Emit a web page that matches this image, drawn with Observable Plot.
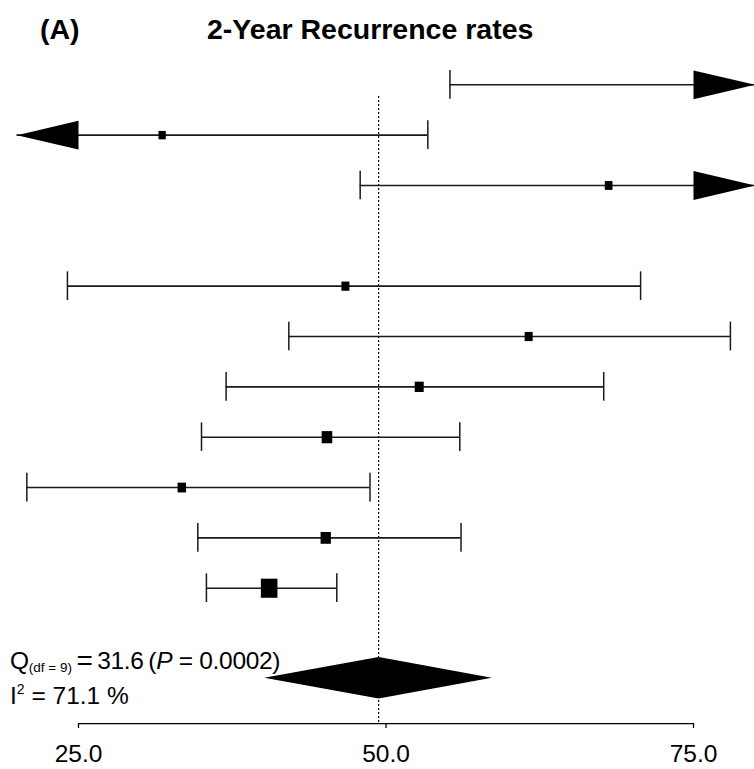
<!DOCTYPE html>
<html>
<head>
<meta charset="utf-8">
<script src="https://cdn.jsdelivr.net/npm/d3@7"></script>
<script src="https://cdn.jsdelivr.net/npm/@observablehq/plot@0.6"></script>
<style>
  body { margin: 0; background: #fff; }
  #wrap { position: relative; width: 754px; height: 769px; font-family: "Liberation Sans", Arial, sans-serif; color: #000; }
  #title { position: relative; height: 56px; }
  #title span { position: absolute; top: 15px; font-weight: bold; font-size: 28.5px; line-height: 28px; white-space: nowrap; }
  .ann { position: absolute; left: 10px; font-size: 24.5px; line-height: 24px; white-space: nowrap; }
  #qline { letter-spacing: -0.3px; }
  .sub { font-size: 13.5px; position: relative; top: 3px; letter-spacing: 0; }
  .sup { font-size: 14px; position: relative; top: -10px; }
  .bigeq { font-size: 28px; position: relative; top: 1px; }
  #chart svg { display: block; }
</style>
</head>
<body>
<div id="wrap">
  <div id="title"><span id="panel" style="left:40px"></span><span id="maintitle" style="left:207px"></span></div>
  <div id="chart"></div>
  <div class="ann" id="qline" style="top:648px"></div>
  <div class="ann" id="iline" style="top:684px"></div>
</div>
<script>
// ---- data ----
const panelLabel = "(A)";
const chartTitle = "2-Year Recurrence rates";
const studyRow  = [0, 1, 2, 4, 5, 6, 7, 8, 9, 10];          // row slot (slot 3 is empty)
const estimate  = [78.0, 31.8, 68.1, 46.7, 61.6, 52.7, 45.2, 33.4, 45.1, 40.5];
const lowerCI   = [55.2, 10.2, 47.9, 24.1, 42.1, 37.0, 35.0, 20.8, 34.7, 35.4];
const upperCI   = [100.0, 53.4, 88.3, 70.7, 78.0, 67.7, 56.0, 48.7, 56.1, 46.0];
const weight    = [7.0, 7.3, 7.7, 8.0, 8.0, 9.0, 10.6, 8.5, 10.3, 16.6];
const pooledEst = 49.4, pooledLower = 40.1, pooledUpper = 58.6;
const pooledRow = 11.78;
const qStat = "31.6", qDf = 9, pValue = "0.0002", i2 = "71.1";
const tickValues = [25, 50, 75];
const xLimits = [20, 80];          // axis limits beyond which arrows are drawn

// ---- layout constants ----
const arrowLen = 5;                // head length in x units
const arrowHalf = 0.286;           // head half height in rows
const capHalf = 0.285;
const diamondHalf = 0.413;
const refTop = 0.232;
const axisRow = 12.688;

const studies = studyRow.map((s, i) => ({slot: s, est: estimate[i], lo: lowerCI[i], hi: upperCI[i], w: weight[i]}));

const arrowPts = [];
studies.forEach((d, i) => {
  if (d.hi > xLimits[1]) {
    arrowPts.push({id: "r" + i, x: xLimits[1], y: d.slot},
                  {id: "r" + i, x: xLimits[1] - arrowLen, y: d.slot - arrowHalf},
                  {id: "r" + i, x: xLimits[1] - arrowLen, y: d.slot + arrowHalf});
  }
  if (d.lo < xLimits[0]) {
    arrowPts.push({id: "l" + i, x: xLimits[0], y: d.slot},
                  {id: "l" + i, x: xLimits[0] + arrowLen, y: d.slot - arrowHalf},
                  {id: "l" + i, x: xLimits[0] + arrowLen, y: d.slot + arrowHalf});
  }
});
const diamond = [
  {x: pooledLower, y: pooledRow},
  {x: pooledEst, y: pooledRow - diamondHalf},
  {x: pooledUpper, y: pooledRow},
  {x: pooledEst, y: pooledRow + diamondHalf}
];

const tallSquare = {
  draw(ctx, size) {
    const r = Math.sqrt(size / Math.PI), h = r * 1.15;
    ctx.moveTo(-r, -h); ctx.lineTo(r, -h); ctx.lineTo(r, h); ctx.lineTo(-r, h); ctx.closePath();
  }
};

const lineColor = "#1a1a1a";

const plot = Plot.plot({
  width: 754,
  height: 713,
  marginTop: 0, marginLeft: 0, marginRight: 0, marginBottom: 46,
  x: {domain: xLimits, range: [16.5, 754.5]},
  y: {domain: [0, 12], range: [28.3, 632.4], axis: null},
  r: {type: "linear", domain: [0, 1], range: [0, 0.5]},
  style: {fontFamily: "'Liberation Sans', Arial, sans-serif", fontSize: "24.5px", color: "black", background: "white", overflow: "visible"},
  marks: [
    Plot.ruleX([pooledEst], {y1: refTop, y2: axisRow, stroke: "black", strokeWidth: 1.2, strokeDasharray: "2,2"}),
    Plot.ruleY(studies, {y: "slot", x1: d => Math.max(d.lo, xLimits[0]), x2: d => Math.min(d.hi, xLimits[1]), stroke: lineColor, strokeWidth: 1.6}),
    Plot.ruleX(studies.filter(d => d.lo >= xLimits[0]), {x: "lo", y1: d => d.slot - capHalf, y2: d => d.slot + capHalf, stroke: lineColor, strokeWidth: 1.5}),
    Plot.ruleX(studies.filter(d => d.hi <= xLimits[1]), {x: "hi", y1: d => d.slot - capHalf, y2: d => d.slot + capHalf, stroke: lineColor, strokeWidth: 1.5}),
    Plot.dot(studies, {x: "est", y: "slot", r: "w", symbol: tallSquare, fill: "black", stroke: "none"}),
    Plot.line(arrowPts, {x: "x", y: "y", z: "id", curve: "linear-closed", fill: "black", stroke: "none"}),
    Plot.line(diamond, {x: "x", y: "y", curve: "linear-closed", fill: "black", stroke: "none"}),
    Plot.ruleY([axisRow], {x1: tickValues[0], x2: tickValues[tickValues.length - 1], stroke: "black", strokeWidth: 1.3}),
    Plot.axisX(tickValues, {anchor: "bottom", tickSize: 5, tickPadding: 16, tickFormat: d3.format(".1f"), fontSize: 24.5, strokeWidth: 1.3})
  ]
});
document.getElementById("chart").appendChild(plot);

document.getElementById("panel").textContent = panelLabel;
document.getElementById("maintitle").textContent = chartTitle;
document.getElementById("qline").innerHTML =
  `Q<span class="sub">(df = ${qDf})</span>\u2009<span class="bigeq">=</span>\u2009${qStat}\u2009(<i>P</i> = ${pValue})`;
document.getElementById("iline").innerHTML =
  `I<span class="sup">2</span> = ${i2} %`;
</script>
</body>
</html>
